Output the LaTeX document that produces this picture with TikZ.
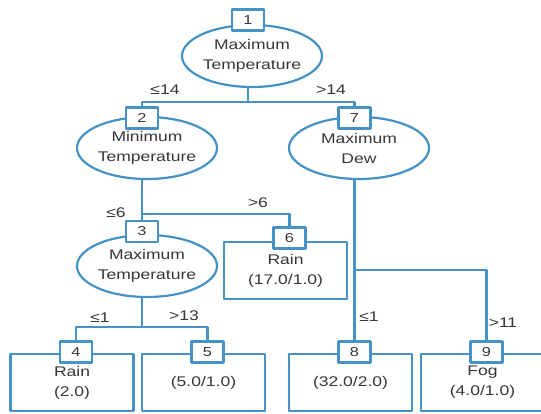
\documentclass[tikz,border=0pt]{standalone}
\usepackage{fontspec}
\setmainfont{Liberation Sans}[FakeStretch=1.25]
\usetikzlibrary{shapes.geometric}
\definecolor{treeblue}{RGB}{70,146,196}
\definecolor{treetext}{RGB}{55,55,55}
\begin{document}
\begin{tikzpicture}[x=1pt, y=-1pt, font=\fontsize{14pt}{20pt}\selectfont, text=treetext, line join=round,
    test/.style={ellipse, draw=treeblue, line width=2.2pt, minimum width=140pt, minimum height=62pt, inner sep=0pt, align=center},
    leaf/.style={rectangle, draw=treeblue, line width=2.2pt, minimum width=123pt, minimum height=57pt, inner sep=0pt, align=center},
    num/.style={rectangle, draw=treeblue, fill=white, line width=2.2pt, minimum width=32pt, minimum height=21pt, inner sep=0pt, font=\fontsize{13pt}{13pt}\selectfont},
    edge/.style={draw=treeblue, line width=2.2pt},
    cond/.style={inner sep=0pt}]
    \clip (0,0) rectangle (541,413);
    \fill[white] (0,0) rectangle (541,413);
    % tests
    \node[test] (e1) at (252,56) {Maximum\\Temperature};
    \node[test] (e2) at (147,148) {Minimum\\Temperature};
    \node[test] (e7) at (359,148) {Maximum\\Dew};
    \node[test] (e3) at (147,266) {Maximum\\Temperature};
    % leaves
    \node[leaf] (r6) at (285.5,270.5) {Rain\\(17.0/1.0)};
    \node[leaf] (r4) at (72,382.5) {Rain\\(2.0)};
    \node[leaf] (r5) at (203.5,382.5) {(5.0/1.0)};
    \node[leaf] (r8) at (350.5,382.5) {(32.0/2.0)};
    \node[leaf] (r9) at (482.5,382.5) {Fog\\(4.0/1.0)};
    % numbers
    \foreach \k/\x/\y in {1/248/20, 2/142/118, 7/354.5/118, 3/142/231.5, 6/289.5/238, 4/76/352, 5/207.5/352, 8/354.5/352, 9/486.5/352}
        \node[num] (b\k) at (\x,\y) {\k};
    % branches
    \draw[edge] (e1.south -| b1) -- ++(0,14) coordinate (j1) -| (b2.north);
    \draw[edge] (j1) -| (b7.north);
    \draw[edge] (e2.south -| b2) -- ++(0,34) coordinate (j2) -- (b3.north);
    \draw[edge] (j2) -| (b6.north);
    \draw[edge] (e3.south -| b3) -- ++(0,29) coordinate (j3) -| (b4.north);
    \draw[edge] (j3) -| (b5.north);
    \draw[edge] (e7.south -| b7) -- ++(0,90) coordinate (j7) -- (b8.north);
    \draw[edge] (j7) -| (b9.north);
    % conditions
    \node[cond] (c1) at (165,90) {≤14};
    \node[cond] (c2) at (331,90) {>14};
    \node[cond] (c3) at (116,213) {≤6};
    \node[cond] (c4) at (258,203) {>6};
    \node[cond] (c5) at (100,318) {≤1};
    \node[cond] (c6) at (184,316) {>13};
    \node[cond] (c7) at (369,317) {≤1};
    \node[cond] (c8) at (503,323) {>11};
\end{tikzpicture}
\end{document}
